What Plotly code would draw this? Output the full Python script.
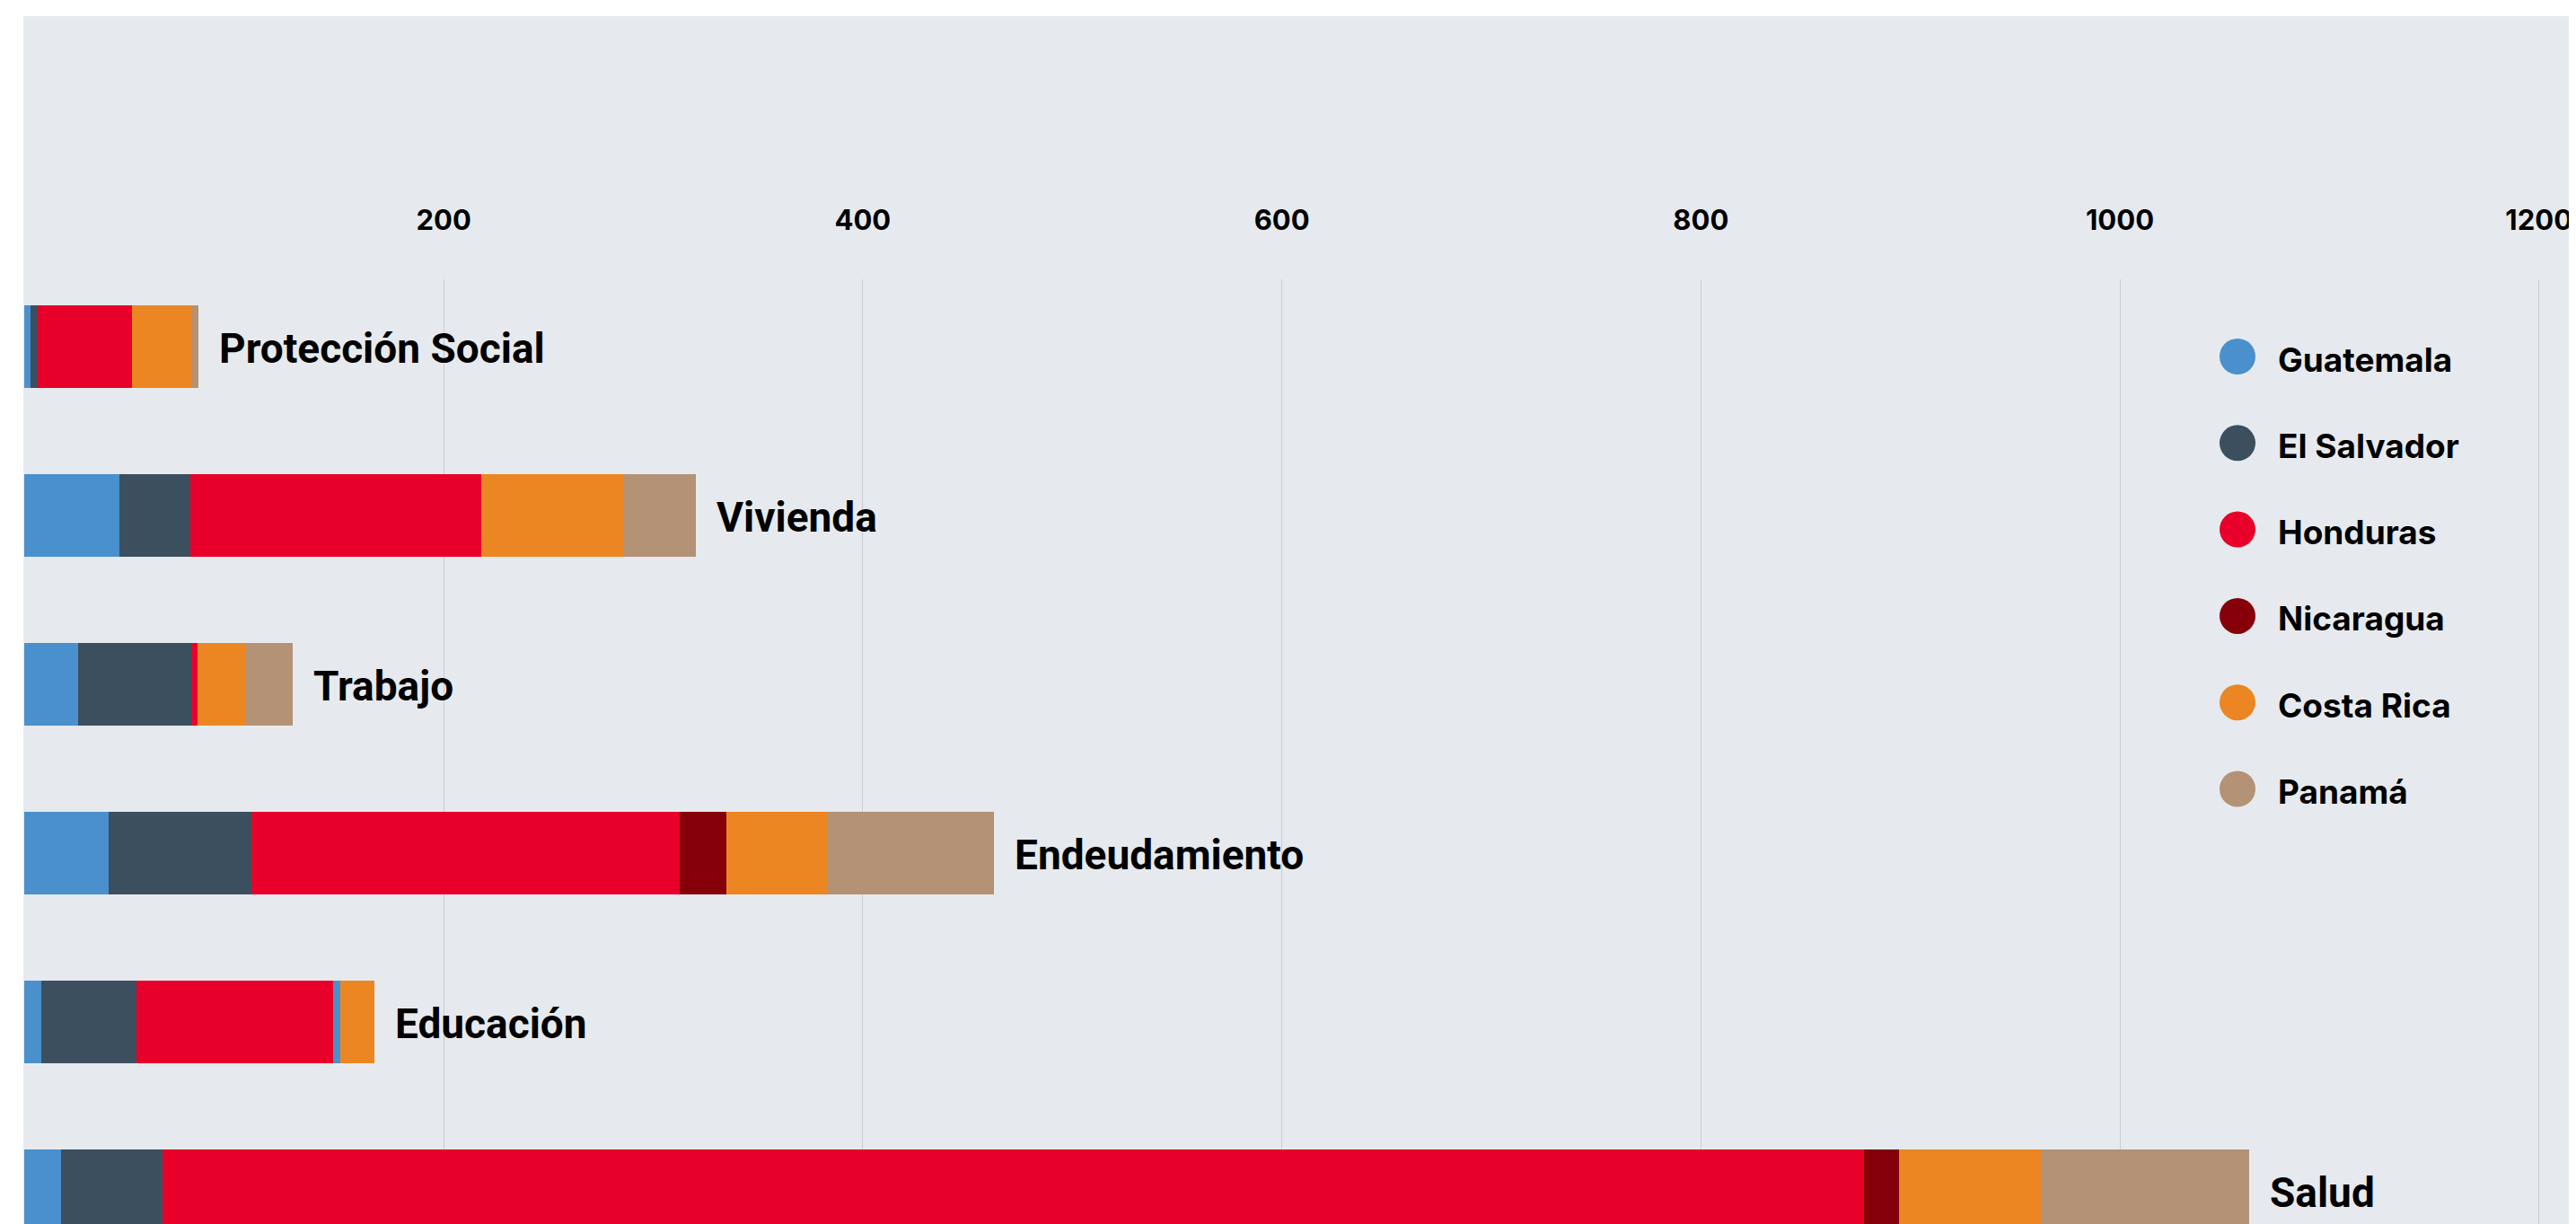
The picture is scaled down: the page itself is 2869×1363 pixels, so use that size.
import plotly.graph_objects as go

# ---- data ----
categories = ["Protección Social", "Vivienda", "Trabajo", "Endeudamiento", "Educación", "Salud"]
countries = ["Guatemala", "El Salvador", "Honduras", "Nicaragua", "Costa Rica", "Panamá"]
guatemala = [3.0, 45.1, 25.6, 40.0, 8.0, 17.5]
el_salvador = [3.1, 33.9, 54.1, 68.2, 45.5, 48.1]
honduras = [45.0, 139.1, 3.0, 204.3, 93.8, 812.1]
nicaragua = [0.0, 0.0, 0.0, 22.6, 3.3, 16.7]
costa_rica = [28.9, 68.0, 22.8, 47.9, 16.5, 68.1]
panama = [2.9, 34.4, 22.6, 79.7, 0.0, 99.3]
tick_values = [200, 400, 600, 800, 1000, 1200]

series = [guatemala, el_salvador, honduras, nicaragua, costa_rica, panama]
colors = ["#4a90cd", "#3b4f5f", "#e8002a", "#850008", "#eb8623", "#b39275"]

OFF = 8            # page body margin
W, H = 2869 - OFF, 1363 - OFF
ML, MT = 18, 303
BG = "#e6eaee"

fig = go.Figure()
for name, vals, col in zip(countries, series, colors):
    mcol = [col] * len(categories)
    if name == "Nicaragua":
        # in the original the small Educación segment shows in Guatemala blue
        mcol[categories.index("Educación")] = colors[0]
    fig.add_trace(go.Bar(
        y=categories, x=vals, name=name, orientation="h",
        marker=dict(color=mcol, line=dict(width=0)),
        width=0.485, showlegend=False, hoverinfo="x+name",
    ))

totals = [sum(s[i] for s in series) for i in range(len(categories))]
for cat, tot in zip(categories, totals):
    fig.add_annotation(
        x=tot, y=cat, xref="x", yref="y", text=cat, showarrow=False,
        xanchor="left", yanchor="middle", xshift=21, yshift=-2,
        font=dict(family="Roboto", size=46, color="#000000", weight=700),
    )

# pixel (absolute page) -> paper coordinates
plot_w = W - ML
plot_h = H - MT
def px_to_paper_x(px):
    return (px - OFF - ML) / plot_w
def px_to_paper_y(py):
    return (H - (py - OFF)) / plot_h

# custom legend (large circles)
leg_x, leg_y0, leg_step, r = 2492, 397, 96.3, 20
for i, (name, col) in enumerate(zip(countries, colors)):
    cy = leg_y0 + i * leg_step
    fig.add_shape(
        type="circle", xref="paper", yref="paper",
        x0=px_to_paper_x(leg_x - r), x1=px_to_paper_x(leg_x + r),
        y0=px_to_paper_y(cy + r), y1=px_to_paper_y(cy - r),
        fillcolor=col, line=dict(width=0), layer="above",
    )
    fig.add_annotation(
        x=px_to_paper_x(leg_x + 43), y=px_to_paper_y(cy), xref="paper", yref="paper",
        text=name, showarrow=False, xanchor="left", yanchor="middle", yshift=-3,
        font=dict(family="Inter", size=37, color="#000000", weight=700),
    )

# grey panel extending above the plot area (behind tick labels)
fig.add_shape(
    type="rect", xref="paper", yref="paper", x0=0, x1=1,
    y0=0, y1=px_to_paper_y(18), fillcolor=BG, line=dict(width=0), layer="below",
)

fig.update_layout(
    width=W, height=H,
    margin=dict(l=ML, r=0, t=MT, b=0, pad=0),
    barmode="stack",
    paper_bgcolor="#ffffff",
    plot_bgcolor=BG,
    showlegend=False,
    xaxis=dict(
        side="top", range=[-0.64, 1217.7], tickvals=tick_values,
        showgrid=True, gridcolor="#c9cdd2", gridwidth=1,
        zeroline=False, showline=False,
        ticks="outside", ticklen=42, tickcolor="rgba(0,0,0,0)",
        tickfont=dict(family="Inter", size=31, color="#000000", weight=700),
    ),
    yaxis=dict(
        categoryorder="array", categoryarray=categories,
        range=[5.197, -0.399], showticklabels=False, showgrid=False,
        zeroline=False, showline=False, ticks="",
    ),
    bargap=0,
)

fig.write_html("out.html")
